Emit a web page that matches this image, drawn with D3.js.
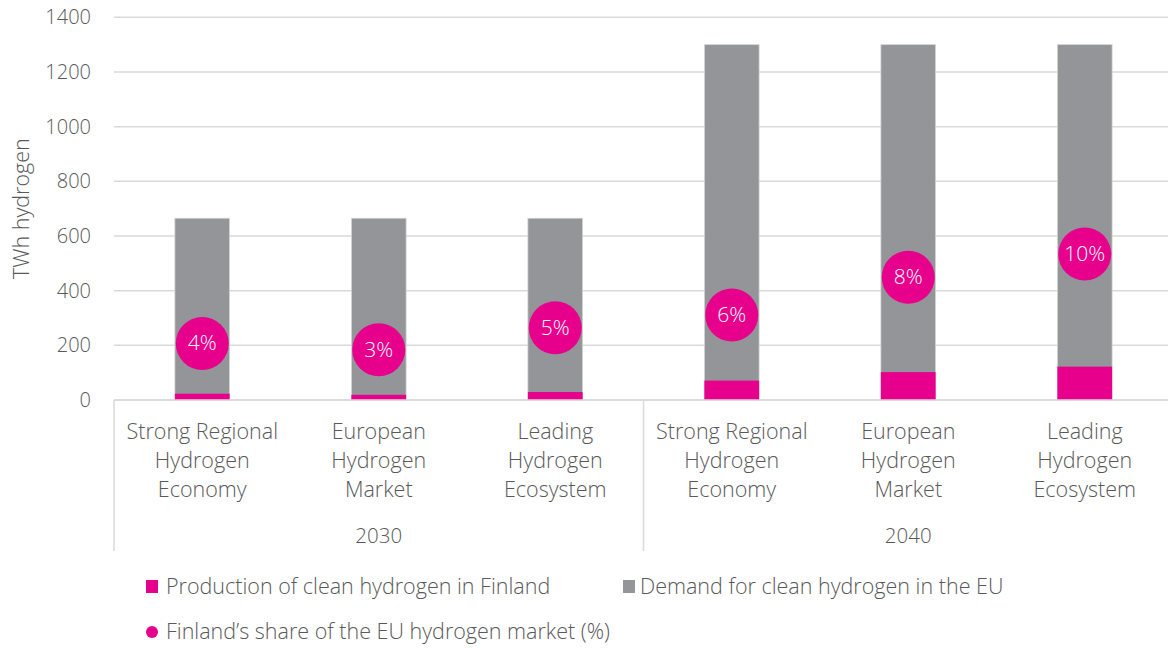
<!DOCTYPE html>
<html>
<head>
<meta charset="utf-8">
<script src="https://cdn.jsdelivr.net/npm/d3@7"></script>
<style>
  body { margin: 0; background: #fff; }
  svg text { font-family: "Open Sans", "Lato", sans-serif; font-weight: 300; fill: #595959; }
</style>
</head>
<body>
<div id="container"></div>
<script>
// Data
var categories = [
  ["Strong Regional", "Hydrogen", "Economy"],
  ["European", "Hydrogen", "Market"],
  ["Leading", "Hydrogen", "Ecosystem"],
  ["Strong Regional", "Hydrogen", "Economy"],
  ["European", "Hydrogen", "Market"],
  ["Leading", "Hydrogen", "Ecosystem"]
]
var years = ["2030", "2040"]
var demand = [665, 665, 665, 1300, 1300, 1300]
var production = [23, 19, 29, 71, 102, 122]
var sharePct = [4, 3, 5, 6, 8, 10]
var shareMarkerY = [207, 184, 264, 311, 449, 534]
var yTicks = [0, 200, 400, 600, 800, 1000, 1200, 1400]

var pink = "#e6008c",
  grey = "#939598",
  gridColor = "#d9d9d9"

var width = 1168, height = 648
var plot = { left: 114, right: 1173, top: 17.3, bottom: 400 }

var svg = d3.select("#container")
  .append("svg")
  .attr("width", width)
  .attr("height", height)

// Scales
var x = d3.scaleBand()
  .domain(d3.range(categories.length))
  .range([plot.left, plot.right])
  .paddingInner(0.69)
  .paddingOuter(0.345)

var y = d3.scaleLinear()
  .domain([0, 1400])
  .range([plot.bottom, plot.top])

// Grid lines and y tick labels
svg.selectAll(".grid")
  .data(yTicks)
  .enter().append("line")
  .attr("x1", plot.left)
  .attr("x2", plot.right)
  .attr("y1", function(d) { return y(d) })
  .attr("y2", function(d) { return y(d) })
  .attr("stroke", gridColor)
  .attr("stroke-width", 1.5)

svg.selectAll(".ytick")
  .data(yTicks)
  .enter().append("text")
  .attr("x", 91)
  .attr("y", function(d) { return y(d) })
  .attr("dy", 7)
  .attr("text-anchor", "end")
  .attr("font-size", 20)
  .text(function(d) { return d })

// Axis title
svg.append("text")
  .attr("transform", "translate(29," + ((plot.top + plot.bottom) / 2) + ") rotate(-90)")
  .attr("text-anchor", "middle")
  .attr("font-size", 21.5)
  .text("TWh hydrogen")

// Demand bars (grey)
svg.selectAll(".bar-demand")
  .data(demand)
  .enter().append("rect")
  .attr("x", function(d, i) { return x(i) })
  .attr("width", x.bandwidth())
  .attr("y", function(d) { return y(d) })
  .attr("height", function(d) { return y(0) - y(d) })
  .attr("fill", grey)
  .attr("stroke", "#d6d6d6")
  .attr("stroke-width", 0.8)

// Production bars (pink)
svg.selectAll(".bar-prod")
  .data(production)
  .enter().append("rect")
  .attr("x", function(d, i) { return x(i) })
  .attr("width", x.bandwidth())
  .attr("y", function(d) { return y(d) })
  .attr("height", function(d) { return y(0) - y(d) })
  .attr("fill", pink)

// Category axis
svg.append("line")
  .attr("x1", plot.left).attr("x2", plot.right)
  .attr("y1", y(0)).attr("y2", y(0))
  .attr("stroke", gridColor).attr("stroke-width", 1.5)

var dividers = [plot.left, x(3) - x.step() * x.paddingInner() / 2, plot.right]
svg.selectAll(".divider")
  .data(dividers)
  .enter().append("line")
  .attr("x1", function(d) { return d })
  .attr("x2", function(d) { return d })
  .attr("y1", y(0))
  .attr("y2", 551)
  .attr("stroke", gridColor)
  .attr("stroke-width", 1.5)

categories.forEach(function(lines, i) {
  var t = svg.append("text")
    .attr("text-anchor", "middle")
    .attr("font-size", 21.5)
  lines.forEach(function(line, j) {
    t.append("tspan")
      .attr("x", x(i) + x.bandwidth() / 2)
      .attr("y", 439 + j * 29)
      .text(line)
  })
})

svg.selectAll(".year")
  .data(years)
  .enter().append("text")
  .attr("x", function(d, i) { return (dividers[i] + dividers[i + 1]) / 2 })
  .attr("y", 543)
  .attr("text-anchor", "middle")
  .attr("font-size", 20.5)
  .text(function(d) { return d })

// Share markers
var markers = svg.selectAll(".share")
  .data(sharePct)
  .enter().append("g")
  .attr("transform", function(d, i) {
    return "translate(" + (x(i) + x.bandwidth() / 2) + "," + y(shareMarkerY[i]) + ")"
  })

markers.append("circle")
  .attr("r", 26.5)
  .attr("fill", pink)

markers.append("text")
  .attr("text-anchor", "middle")
  .attr("dy", 7)
  .attr("font-size", 21)
  .style("fill", "#fff")
  .text(function(d) { return d + "%" })

// Legend
var legend = svg.append("g")

legend.append("rect")
  .attr("x", 146).attr("y", 580).attr("width", 12).attr("height", 13)
  .attr("fill", pink)
legend.append("text")
  .attr("x", 166).attr("y", 594).attr("font-size", 21.5)
  .text("Production of clean hydrogen in Finland")

legend.append("rect")
  .attr("x", 623).attr("y", 580).attr("width", 12).attr("height", 13)
  .attr("fill", grey)
legend.append("text")
  .attr("x", 640).attr("y", 594).attr("font-size", 21.5)
  .text("Demand for clean hydrogen in the EU")

legend.append("circle")
  .attr("cx", 152).attr("cy", 632).attr("r", 6)
  .attr("fill", pink)
legend.append("text")
  .attr("x", 166).attr("y", 639).attr("font-size", 21.5)
  .text("Finland’s share of the EU hydrogen market (%)")
</script>
</body>
</html>
